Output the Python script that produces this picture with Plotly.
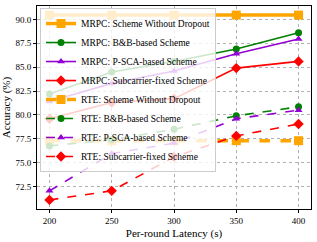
import plotly.graph_objects as go

latency = [200, 250, 300, 350, 400]

mrpc_no_dropout = [90.45, 90.45, 90.45, 90.45, 90.45]
mrpc_bb = [82.2, 84.5, 85.6, 86.9, 88.6]
mrpc_psca = [81.4, 83.3, 84.6, 86.4, 87.95]
mrpc_subfixed = [79.6, 81.3, 81.7, 84.9, 85.6]

rte_no_dropout = [77.3, 77.3, 77.3, 77.3, 77.3]
rte_bb = [76.75, 77.4, 78.5, 79.9, 80.85]
rte_psca = [72.05, 75.95, 77.05, 79.6, 80.5]
rte_subfixed = [71.1, 72.05, 75.6, 77.8, 79.05]

y_ticks = [72.5, 75.0, 77.5, 80.0, 82.5, 85.0, 87.5, 90.0]
y_tick_text = ["72.5", "75.0", "77.5", "80.0", "82.5", "85.0", "87.5", "90.0"]

ORANGE = "#FFA500"
GREEN = "#008000"
PURPLE = "#9400D3"
RED = "#FF0000"

series = [
    ("MRPC: Scheme Without Dropout", mrpc_no_dropout, ORANGE, "square", "solid", 3.5, 9),
    ("MRPC: B&B-based Scheme", mrpc_bb, GREEN, "circle", "solid", 1.6, 7),
    ("MRPC: P-SCA-based Scheme", mrpc_psca, PURPLE, "triangle-up", "solid", 1.6, 7),
    ("MRPC: Subcarrier-fixed Scheme", mrpc_subfixed, RED, "diamond", "solid", 1.6, 8),
    ("RTE: Scheme Without Dropout", rte_no_dropout, ORANGE, "square", "dash", 3.5, 9),
    ("RTE: B&B-based Scheme", rte_bb, GREEN, "circle", "dash", 1.6, 7),
    ("RTE: P-SCA-based Scheme", rte_psca, PURPLE, "triangle-up", "dash", 1.6, 7),
    ("RTE: Subcarrier-fixed Scheme", rte_subfixed, RED, "diamond", "dash", 1.6, 8),
]

fig = go.Figure()
for name, vals, color, sym, dash, lw, ms in series:
    fig.add_trace(go.Scatter(
        x=latency, y=vals, name=name, mode="lines+markers",
        line=dict(color=color, width=lw, dash=dash),
        marker=dict(symbol=sym, size=ms, color=color),
    ))

font_family = "Liberation Serif"
fig.update_layout(
    width=317, height=242,
    margin=dict(l=37, r=6, t=6, b=33),
    paper_bgcolor="white", plot_bgcolor="white",
    font=dict(family=font_family, size=9, color="black"),
    showlegend=True,
    legend=dict(
        x=0.011, y=0.99, xanchor="left", yanchor="top",
        bgcolor="rgba(255,255,255,0.8)", bordercolor="#cccccc", borderwidth=1,
        font=dict(family=font_family, size=9.5, color="black"),
        tracegroupgap=0, itemwidth=30,
    ),
    xaxis=dict(
        range=[190, 410], tickvals=latency, ticktext=[str(v) for v in latency],
        showgrid=True, gridcolor="#b0b0b0", griddash="dot", gridwidth=0.8,
        showline=True, linecolor="black", linewidth=1, mirror=True,
        ticks="outside", ticklen=3, tickcolor="black", zeroline=False,
        automargin=False,
        title=dict(text="Per-round Latency (s)", font=dict(size=11, family=font_family), standoff=4),
        tickfont=dict(size=9, family=font_family),
    ),
    yaxis=dict(
        range=[70.15, 91.4], tickvals=y_ticks, ticktext=y_tick_text,
        showgrid=True, gridcolor="#b0b0b0", griddash="dot", gridwidth=0.8,
        showline=True, linecolor="black", linewidth=1, mirror=True,
        ticks="outside", ticklen=3, tickcolor="black", zeroline=False,
        automargin=False,
        title=dict(text="Accuracy (%)", font=dict(size=11, family=font_family), standoff=3),
        tickfont=dict(size=9, family=font_family),
    ),
)

fig.write_html("out.html", config={"displayModeBar": False},
               post_script="document.body.style.margin='0px';")
